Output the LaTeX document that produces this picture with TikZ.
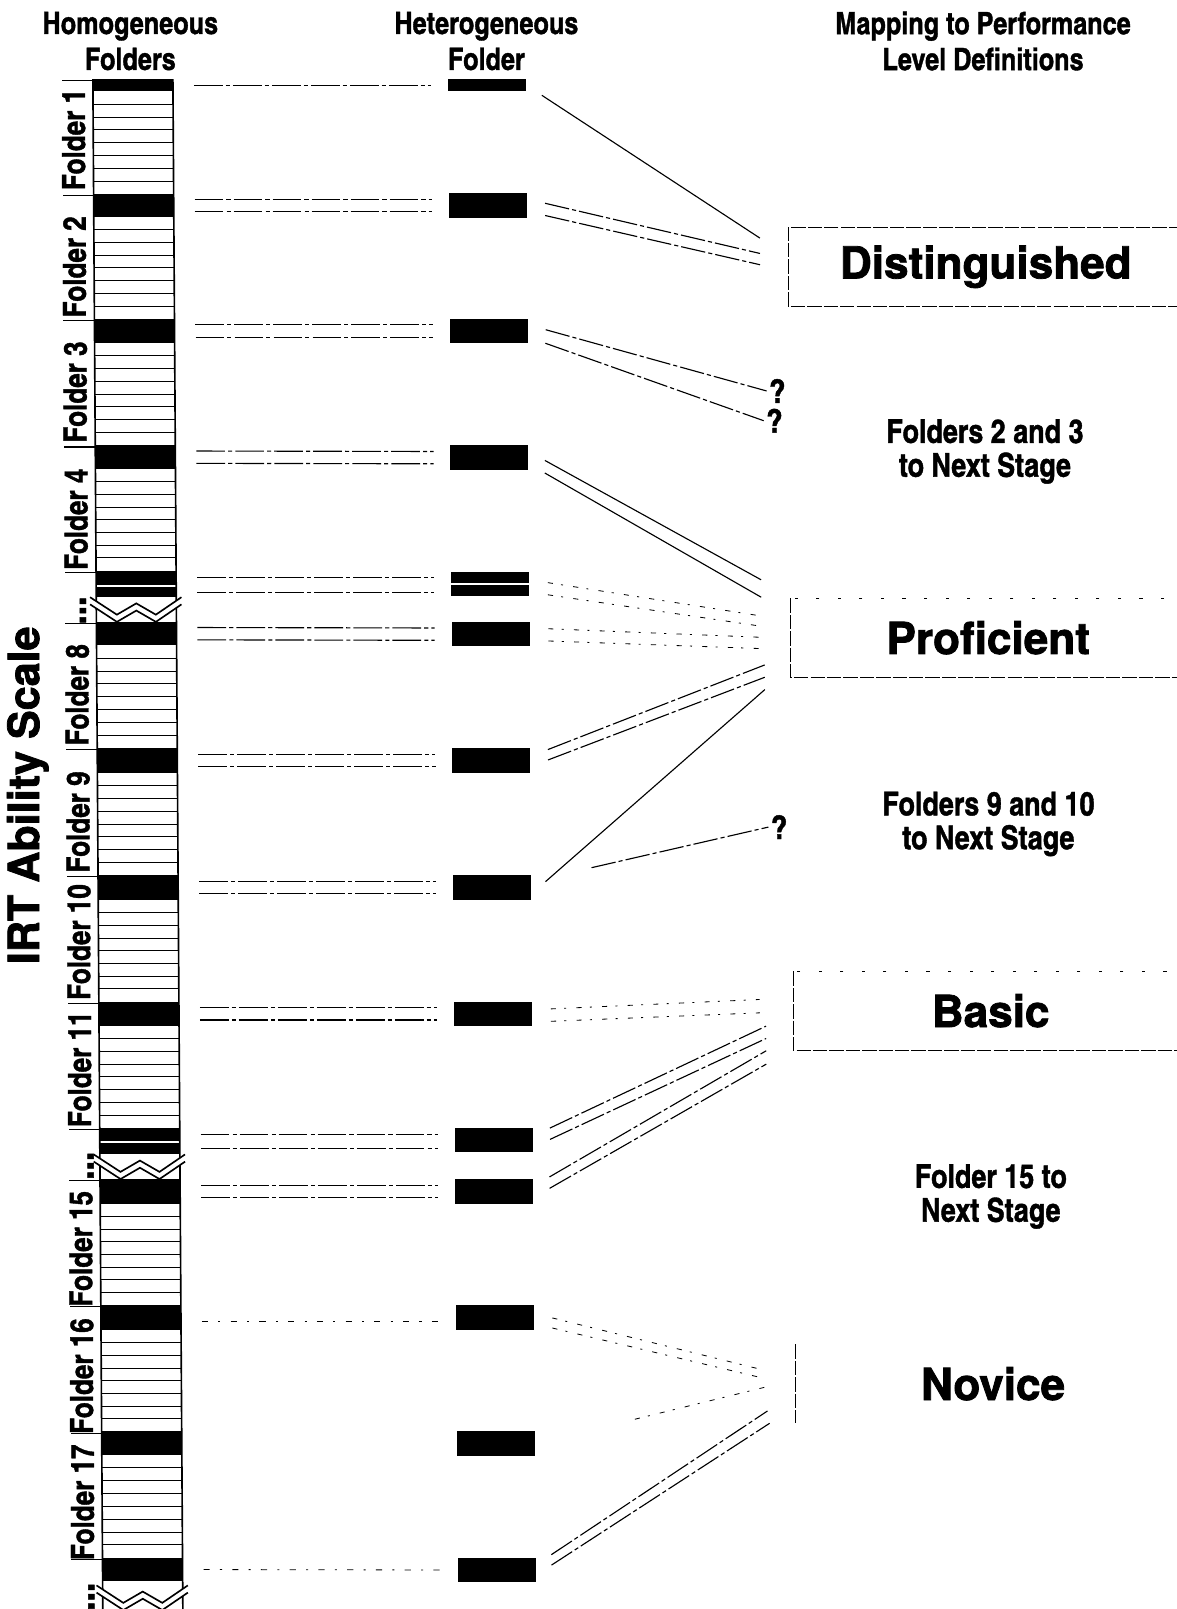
\documentclass[tikz,border=0pt]{standalone}
\usepackage{fontspec}
\setmainfont{TeX Gyre Heros}
\newfontfamily\condfont{texgyreheroscn-bold.otf}[FakeBold=1.2]
\newfontfamily\heavyfont{texgyreheros-bold.otf}[FakeBold=1.8]

\tikzstyle{band}=[fill=black,minimum width=39pt,inner sep=0pt]
\tikzstyle{hetero}=[fill=black,minimum width=38pt,inner sep=0pt]
\tikzstyle{stripe}=[line width=0.45pt]
\tikzstyle{barline}=[line width=0.8pt]
\tikzstyle{tick}=[line width=0.5pt]
\tikzstyle{hlink}=[line width=0.55pt,dash pattern=on 14pt off 1.5pt on 2pt off 1.5pt,shorten <=10pt,shorten >=8pt]
\tikzstyle{hfaint}=[line width=0.4pt,dash pattern=on 3pt off 5pt on 1pt off 5pt,shorten <=10pt,shorten >=8pt]
\tikzstyle{solidlink}=[line width=0.55pt,shorten <=9pt]
\tikzstyle{dashlink}=[line width=0.55pt,dash pattern=on 12pt off 1.5pt on 2pt off 1.5pt,shorten <=9pt]
\tikzstyle{faintlink}=[line width=0.4pt,dash pattern=on 2.5pt off 4pt on 1pt off 5pt,shorten <=9pt]
\tikzstyle{level}=[minimum width=192pt,minimum height=38pt,inner sep=0pt,font=\heavyfont\fontsize{21.5}{24}\selectfont]
\tikzstyle{boxline}=[line width=0.5pt,dash pattern=on 7pt off 1pt]
\tikzstyle{sparse}=[line width=0.5pt,dash pattern=on 1.5pt off 9pt]
\tikzstyle{title}=[align=center,font=\condfont\fontsize{15}{17.5}\selectfont]
\tikzstyle{stage}=[align=center,font=\condfont\fontsize{16}{16.5}\selectfont]
\tikzstyle{folder}=[rotate=90,font=\condfont\fontsize{15.5}{18}\selectfont]
\tikzstyle{query}=[inner sep=1pt,font=\condfont\fontsize{16}{18}\selectfont]

% break mark across the scale bar
\newcommand{\foldbreak}[1]{%
  \fill[white] (84,#1) -- (110,#1+17) -- (129,#1+6) -- (148,#1+17) -- (173,#1)
    -- (173,#1+7) -- (148,#1+24) -- (129,#1+13) -- (110,#1+24) -- (84,#1+7) -- cycle;
  \draw[barline] (84,#1) -- (110,#1+17) -- (129,#1+6) -- (148,#1+17) -- (173,#1);
  \draw[barline] (84,#1+7) -- (110,#1+24) -- (129,#1+13) -- (148,#1+24) -- (173,#1+7);
}

\begin{document}
\begin{tikzpicture}[x=0.5pt,y=-0.5pt]
  \useasboundingbox (0,0) rectangle (1147,1568);

  \begin{scope}[xslant=-0.0065]
  % homogeneous folders
  \foreach \t/\b in {89/189,211/311,334/434,457/556,629/729,753/853,877/976,1000/1099,1173/1272,1296/1395,1418/1518}{
    \foreach \k in {1,...,7}{
      \draw[stripe] (90,{\t+\k*(\b-\t)/8}) -- (168,{\t+\k*(\b-\t)/8});
    }
  }
  \draw[barline] (90,77) -- (90,1568);
  \draw[barline] (168,77) -- (168,1568);

  \foreach \i/\y/\hgt in {1/83/6,2/200/11,3/322.5/11.5,4/445.5/11.5,5/563/7,6/617.5/11.5,7/741/12,
      8/865/12,9/988/12,10/1105.5/6.5,11/1161/12,12/1284/12,13/1406.5/11.5,14/1529.5/11.5}{
    \node (b\i)[band,minimum height=\hgt pt] at (129,\y) {};
  }
  \node (b5b)[band,minimum height=5pt] at (129,577) {};
  \node (b10b)[band,minimum height=5.5pt] at (129,1119.5) {};

  \foldbreak{582}
  \foldbreak{1125}
  \foldbreak{1545}

  \foreach \i in {1,...,14}{
    \draw[tick] ([yshift=-1pt]b\i.north west) -- ++(-30,0);
  }

  % heterogeneous folder
  \foreach \i/\y/\hgt in {1/83/6,2/200/12,3/322.5/11.5,4/446/12,5/569/12,6/618/12,7/741/12,
      8/865/12,9/988/12,10/1111/12,11/1161/12,12/1284/12,13/1407/12,14/1530/12}{
    \node (h\i)[hetero,minimum height=\hgt pt] at (474,\y) {};
  }
  \draw[white,line width=0.6pt] (h5.west) -- (h5.east);

  \draw[hlink] (b1.east) -- (h1.west);
  \foreach \i in {2,3,4,6,7,8,9,11}{
    \draw[hlink] ([yshift=3pt]b\i.east) -- ([yshift=3pt]h\i.west);
    \draw[hlink] ([yshift=-3pt]b\i.east) -- ([yshift=-3pt]h\i.west);
  }
  \draw[hlink] (b5.east) -- (b5.east -| h5.west);
  \draw[hlink] (b5b.east) -- (b5b.east -| h5.west);
  \draw[hlink] (b10.east) -- (b10.east -| h10.west);
  \draw[hlink] (b10b.east) -- (b10b.east -| h10.west);
  \draw[hfaint] ([yshift=-2pt]b12.east) -- ([yshift=-2pt]h12.west);
  \draw[hfaint] (b14.east) -- (h14.west);

  % performance levels
  \node (dist)[level] at (959,260) {Distinguished};
  \node (prof)[level] at (959,621.5) {Proficient};
  \node (basic)[level] at (959,985) {Basic};
  \node (nov)[level] at (959,1348.5) {Novice};

  \draw[boxline] (dist.north east) -- (dist.north west) -- (dist.south west) -- (dist.south east);
  \draw[sparse] (prof.north east) -- (prof.north west);
  \draw[boxline] (prof.north west) -- (prof.south west) -- (prof.south east);
  \draw[sparse] (basic.north east) -- (basic.north west);
  \draw[boxline] (basic.north west) -- (basic.south west) -- (basic.south east);
  \draw[boxline] (nov.north west) -- (nov.south west);

  \node (stage1)[stage] at (957,440) {Folders 2 and 3\\to Next Stage};
  \node (stage2)[stage] at (958,803) {Folders 9 and 10\\to Next Stage};
  \node (stage3)[stage] at (958,1166) {Folder 15 to\\Next Stage};

  \node (q1)[query] at (755,381) {?};
  \node (q2)[query] at (752,410) {?};
  \node (q3)[query] at (754,806) {?};

  \coordinate (d1) at (739,232);
  \coordinate (d2) at (739,247);
  \coordinate (d3) at (739,258);
  \coordinate (e1) at (738,565);
  \coordinate (e2) at (738,582);
  \coordinate (f1) at (736,600);
  \coordinate (f2) at (736,610);
  \coordinate (g1) at (736,621);
  \coordinate (g2) at (736,632);
  \coordinate (p1) at (741,648);
  \coordinate (p2) at (741,660);
  \coordinate (p3) at (741,672);
  \coordinate (k1) at (734,974);
  \coordinate (k2) at (734,987);
  \coordinate (k3) at (740,1000);
  \coordinate (k4) at (740,1012);
  \coordinate (k5) at (740,1024);
  \coordinate (k6) at (740,1037);
  \coordinate (n1) at (735,1335);
  \coordinate (n2) at (735,1343);
  \coordinate (n3) at (736,1352);
  \coordinate (n4) at (739,1375);
  \coordinate (n5) at (741,1387);

  \draw[solidlink] (h1.east) -- (d1);
  \draw[dashlink] ([yshift=3pt]h2.east) -- (d2);
  \draw[dashlink] ([yshift=-3pt]h2.east) -- (d3);
  \draw[dashlink] ([yshift=3pt]h3.east) -- (q1.west);
  \draw[dashlink] ([yshift=-3pt]h3.east) -- (q2.west);
  \draw[solidlink] ([yshift=3pt]h4.east) -- (e1);
  \draw[solidlink] ([yshift=-3pt]h4.east) -- (e2);
  \draw[faintlink] ([yshift=2pt]h5.east) -- (f1);
  \draw[faintlink] ([yshift=-4pt]h5.east) -- (f2);
  \draw[faintlink] ([yshift=3pt]h6.east) -- (g1);
  \draw[faintlink] ([yshift=-3pt]h6.east) -- (g2);
  \draw[dashlink] ([yshift=2pt]h7.east) -- (p1);
  \draw[dashlink] ([yshift=-3pt]h7.east) -- (p2);
  \draw[solidlink] ([yshift=-3pt]h8.east) -- (p3);
  \draw[dashlink,shorten <=30pt] ([yshift=3pt]h8.east) -- (q3.west);
  \draw[faintlink] ([yshift=2pt]h9.east) -- (k1);
  \draw[faintlink] ([yshift=-4pt]h9.east) -- (k2);
  \draw[dashlink] ([yshift=2pt]h10.east) -- (k3);
  \draw[dashlink] ([yshift=-3.5pt]h10.east) -- (k4);
  \draw[dashlink] ([yshift=2.5pt]h11.east) -- (k5);
  \draw[dashlink] ([yshift=-3pt]h11.east) -- (k6);
  \draw[faintlink] ([yshift=2pt]h12.east) -- (n1);
  \draw[faintlink] ([yshift=-3pt]h12.east) -- (n2);
  \draw[faintlink,shorten <=50pt] (h13.east) -- (n3);
  \draw[dashlink] ([yshift=2.5pt]h14.east) -- (n4);
  \draw[dashlink] ([yshift=-2.5pt]h14.east) -- (n5);

  % labels on the scale
  \foreach \n/\y in {1/136,2/260,3/382,4/506,8/677,9/801,10/918,11/1042,15/1217,16/1341,17/1464}{
    \node (lab\n)[folder] at (71,\y) {Folder \n};
  }
  \node (dots1)[folder,font=\condfont\fontsize{20}{20}\selectfont] at (77,595) {...};
  \node (dots2)[folder,font=\condfont\fontsize{20}{20}\selectfont] at (81,1136) {...};
  \node (dots3)[folder,font=\condfont\fontsize{20}{20}\selectfont] at (79,1556) {...};
  \node (irt)[rotate=90,font=\heavyfont\fontsize{21}{24}\selectfont] at (22,775) {IRT Ability Scale};
  \end{scope}

  % column headings
  \node (homtitle)[title] at (127,40) {Homogeneous\\Folders};
  \node (hettitle)[title] at (474,40) {Heterogeneous\\Folder};
  \node (maptitle)[title] at (958,40) {Mapping to Performance\\Level Definitions};
\end{tikzpicture}
\end{document}
